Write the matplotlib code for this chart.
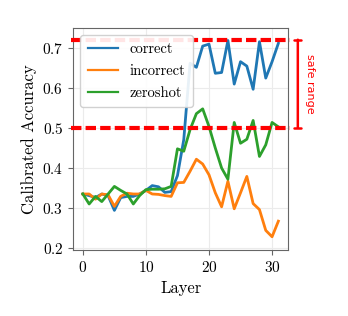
import matplotlib.pyplot as plt
import numpy as np

plt.rcParams['font.family'] = ['cmr10', 'DejaVu Serif']
plt.rcParams['axes.formatter.use_mathtext'] = True

# data
layers = list(range(32))
correct = [0.334, 0.330, 0.325, 0.334, 0.330, 0.293, 0.325, 0.328, 0.328, 0.334,
           0.343, 0.355, 0.352, 0.338, 0.340, 0.380, 0.470, 0.661, 0.651, 0.704,
           0.709, 0.636, 0.638, 0.718, 0.609, 0.665, 0.654, 0.596, 0.715, 0.624,
           0.665, 0.711]
incorrect = [0.334, 0.334, 0.321, 0.334, 0.332, 0.303, 0.328, 0.336, 0.334, 0.334,
             0.343, 0.334, 0.333, 0.330, 0.328, 0.362, 0.363, 0.391, 0.421, 0.409,
             0.382, 0.337, 0.302, 0.366, 0.297, 0.337, 0.378, 0.310, 0.295, 0.243,
             0.227, 0.266]
zeroshot = [0.334, 0.309, 0.328, 0.315, 0.334, 0.353, 0.343, 0.334, 0.309, 0.330,
            0.345, 0.346, 0.346, 0.347, 0.353, 0.447, 0.441, 0.495, 0.535, 0.547,
            0.503, 0.449, 0.399, 0.371, 0.513, 0.461, 0.471, 0.518, 0.428, 0.457,
            0.513, 0.502]
safe_low, safe_high = 0.5, 0.72

fig = plt.figure(figsize=(3.48, 3.16), dpi=100)
ax = fig.add_axes([0.21, 0.209, 0.618, 0.702])

ax.plot(layers, correct, color='tab:blue', lw=2, label='correct')
ax.plot(layers, incorrect, color='tab:orange', lw=2, label='incorrect')
ax.plot(layers, zeroshot, color='tab:green', lw=2, label='zeroshot')

for yv in (safe_low, safe_high):
    ax.axhline(yv, xmin=-0.01, xmax=1.01, color='red', lw=3, dashes=(2.5, 1),
               clip_on=False, zorder=5)

# safe range bracket
ax.annotate('', xy=(1.045, safe_high), xytext=(1.045, safe_low),
            xycoords=('axes fraction', 'data'),
            arrowprops=dict(arrowstyle='|-|, widthA=0.25, widthB=0.25',
                            color='red', lw=1.8, shrinkA=0, shrinkB=0))
ax.text(1.1, (safe_low + safe_high) / 2, 'safe range', color='red',
        rotation=-90, va='center', ha='center', fontsize=8,
        family='DejaVu Sans', transform=ax.get_yaxis_transform())

ax.set_xlim(-1.55, 32.55)
ax.set_ylim(0.194, 0.749)
ax.set_xticks([0, 10, 20, 30])
ax.set_yticks([0.2, 0.3, 0.4, 0.5, 0.6, 0.7])
ax.grid(True, color='#ebebeb', lw=0.8)
ax.set_axisbelow(True)
for s in ax.spines.values():
    s.set_color('#666666')
ax.tick_params(labelsize=11, color='#666666')
ax.set_xlabel('Layer', fontsize=12)
ax.set_ylabel('Calibrated Accuracy', fontsize=12)
leg = ax.legend(loc='upper left', fontsize=10.5, handlelength=2.1, borderpad=0.5,
                labelspacing=0.55, handletextpad=0.8, framealpha=0.9)
for ln in leg.get_lines():
    ln.set_linewidth(1.6)

fig.savefig('out.png', dpi=100)
